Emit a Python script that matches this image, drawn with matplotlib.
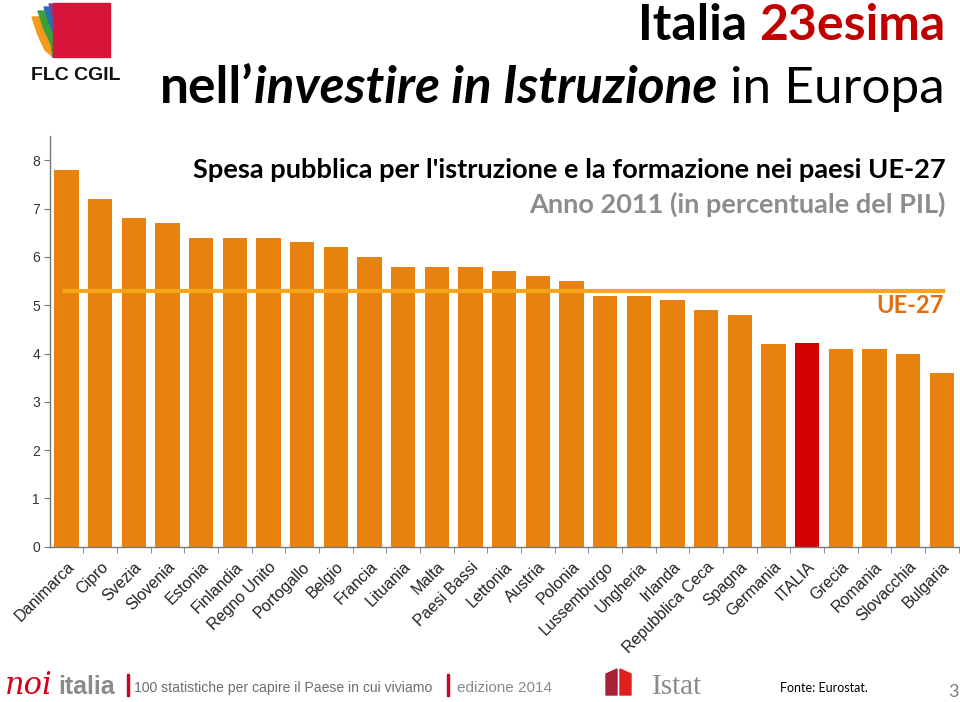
import matplotlib.pyplot as plt
from matplotlib.patches import Rectangle, Polygon

# data
paesi = ["Danimarca", "Cipro", "Svezia", "Slovenia", "Estonia", "Finlandia",
         "Regno Unito", "Portogallo", "Belgio", "Francia", "Lituania", "Malta",
         "Paesi Bassi", "Lettonia", "Austria", "Polonia", "Lussemburgo",
         "Ungheria", "Irlanda", "Repubblica Ceca", "Spagna", "Germania",
         "ITALIA", "Grecia", "Romania", "Slovacchia", "Bulgaria"]
spesa = [7.8, 7.2, 6.8, 6.7, 6.4, 6.4, 6.4, 6.3, 6.2, 6.0, 5.8, 5.8, 5.8, 5.7,
         5.6, 5.5, 5.2, 5.2, 5.1, 4.9, 4.8, 4.2, 4.22, 4.1, 4.1, 4.0, 3.6]
media_ue27 = 5.3
y_ticks = [0, 1, 2, 3, 4, 5, 6, 7, 8]

ORANGE = "#E8820E"
RED = "#D40000"
LINE = "#F7A51C"

fig = plt.figure(figsize=(9.6, 7.02), dpi=100)
W, H = 960, 702


def fx(px):
    return px / W


def fy(py):
    # pixel from top -> figure fraction
    return 1 - py / H


ax = fig.add_axes([49.7 / W, 155.3 / H, 909 / W, 8.5 * 48.3 / H])
colors = [RED if p == "ITALIA" else ORANGE for p in paesi]
x = list(range(len(paesi)))
ax.bar(x, spesa, width=0.72, color=colors, zorder=2)
ax.axhline(media_ue27, xmin=0.017, xmax=0.983, color=LINE, lw=3, zorder=3)

ax.set_xlim(-0.5, len(paesi) - 0.5)
ax.set_ylim(0, 8.5)
ax.set_yticks(y_ticks)
ax.tick_params(axis="y", direction="out", length=4, color="#777777",
               labelsize=10, labelcolor="#333333", pad=3)
ax.set_xticks(x)
ax.set_xticklabels(paesi, rotation=45, ha="right", rotation_mode="anchor",
                   fontsize=11.5, color="#222222", family="Liberation Sans")
ax.tick_params(axis="x", length=0, pad=9)
ax.set_xticks([i - 0.5 for i in range(1, len(paesi) + 1)], minor=True)
ax.tick_params(axis="x", which="minor", direction="out", length=4, color="#777777")
for lab in ax.get_yticklabels():
    lab.set_family("Liberation Sans")
for s in ["top", "right"]:
    ax.spines[s].set_visible(False)
for s in ["left", "bottom"]:
    ax.spines[s].set_color("#777777")
    ax.spines[s].set_linewidth(1)

ax.text(0.983, 0.587, "UE-27", transform=ax.transAxes, ha="right", va="center",
        fontsize=17, fontweight="bold", color="#E46C0A", family="Lato")

fig.canvas.draw()
renderer = fig.canvas.get_renderer()


def runs_right(right_px, base_px, runs):
    # place text runs right-aligned, last run first
    xr = right_px
    for txt, kw in reversed(runs):
        t = fig.text(fx(xr), fy(base_px), txt, ha="right", va="baseline",
                     family="Lato", **kw)
        bb = t.get_window_extent(renderer)
        xr -= bb.width


runs_right(945, 40, [("Italia ", dict(fontsize=36, fontweight="bold", color="black")),
                     ("23esima", dict(fontsize=36, fontweight="bold", color="#C00000"))])
runs_right(945, 103, [("nell’", dict(fontsize=37, fontweight="bold", color="black")),
                      ("investire in Istruzione", dict(fontsize=37, fontweight="bold",
                                                        style="italic", color="black")),
                      (" in Europa", dict(fontsize=37, color="black"))])
runs_right(946, 178, [("Spesa pubblica per l'istruzione e la formazione nei paesi UE-27",
                       dict(fontsize=19.6, fontweight="bold", color="black"))])
runs_right(946, 213, [("Anno 2011 (in percentuale del PIL)",
                       dict(fontsize=19.5, fontweight="bold", color="#8C8C8C"))])

# FLC CGIL logo
fans = [("#F39A1E", 32, 17), ("#3BA037", 38, 11), ("#2A6FB5", 44, 7), ("#8E3B8E", 49, 4)]
for col, xt, yt in fans:
    pts = [(xt, yt), (xt + 6, yt + 18), (xt + 13, yt + 33), (53, 57), (110, 57), (110, yt)]
    fig.patches.append(Polygon([(fx(a), fy(b)) for a, b in pts], closed=True,
                               transform=fig.transFigure, color=col))
fig.patches.append(Rectangle((fx(53), fy(57)), 57 / W, 54 / H,
                             transform=fig.transFigure, color="#D7143A"))
fig.text(fx(76), fy(80), "FLC CGIL", ha="center", va="baseline", fontsize=14,
         fontweight="bold", color="#111111", family="Liberation Sans")

# footer
fig.text(fx(5), fy(694), "noi", fontsize=22, style="italic", color="#D4001A",
         family="DejaVu Serif", va="baseline")
fig.text(fx(58), fy(694), "italia", fontsize=18, fontweight="bold", color="#8A8A8A",
         family="Liberation Sans", va="baseline")
fig.patches.append(Rectangle((fx(127), fy(696)), 2 / W, 22 / H,
                             transform=fig.transFigure, color="#D4001A"))
fig.text(fx(134), fy(692), "100 statistiche per capire il Paese in cui viviamo",
         fontsize=10.1, color="#6E6E6E", family="Liberation Sans", va="baseline")
fig.patches.append(Rectangle((fx(447), fy(696)), 2 / W, 22 / H,
                             transform=fig.transFigure, color="#D4001A"))
fig.text(fx(457), fy(692), "edizione 2014", fontsize=11, color="#8A8A8A",
         family="Liberation Sans", va="baseline")

fig.patches.append(Polygon([(fx(606), fy(695)), (fx(606), fy(674)),
                            (fx(617), fy(669)), (fx(617), fy(695))],
                           closed=True, transform=fig.transFigure, color="#A8203A"))
fig.patches.append(Polygon([(fx(620), fy(695)), (fx(620), fy(669)),
                            (fx(631), fy(674)), (fx(631), fy(695))],
                           closed=True, transform=fig.transFigure, color="#E0201E"))
fig.text(fx(652), fy(694), "Istat", fontsize=21, color="#8A8A8A",
         family="Liberation Serif", va="baseline")
fig.text(fx(780), fy(692), "Fonte: Eurostat.", fontsize=9, color="black",
         family="Lato", va="baseline")
fig.text(fx(948), fy(697), "3", fontsize=13, color="#7F7F7F",
         family="Lato", va="baseline")

fig.savefig("out.png", dpi=100)
